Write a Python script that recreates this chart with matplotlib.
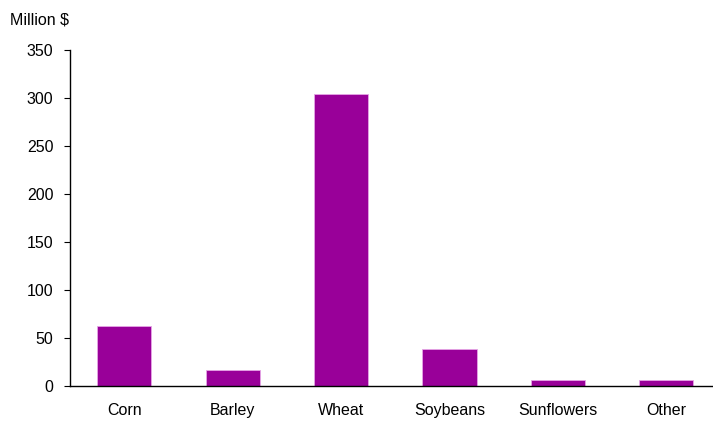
import matplotlib.pyplot as plt

crops = ['Corn', 'Barley', 'Wheat', 'Soybeans', 'Sunflowers', 'Other']
values = [62.8, 16.7, 304.5, 38.2, 5.9, 5.9]
yticks = [0, 50, 100, 150, 200, 250, 300, 350]

plt.rcParams['font.family'] = ['Liberation Sans', 'DejaVu Sans']
fs = 11.5

fig = plt.figure(figsize=(7.13, 4.21), dpi=100)
ax = fig.add_axes([70/713, 1-386/421, 1-70/713, (386-50)/421])

ax.bar(range(len(crops)), values, width=0.5, color='#990099', edgecolor='#e6a6e6', linewidth=0.6)

ax.set_xlim(-0.5, 5.43)
ax.set_ylim(0, 350)
ax.set_yticks(yticks)
ax.set_xticks(range(len(crops)))
ax.set_xticklabels(crops, fontsize=fs)
ax.tick_params(axis='x', length=0, pad=12)
ax.tick_params(axis='y', length=4, direction='out', labelsize=fs, pad=8)

for s in ['top', 'right']:
    ax.spines[s].set_visible(False)
ax.spines['left'].set_linewidth(1.0)
ax.spines['bottom'].set_linewidth(1.0)

fig.text(10/713, 1-20/421, 'Million $', fontsize=fs, va='center', ha='left')

fig.savefig('out.png', dpi=100)
